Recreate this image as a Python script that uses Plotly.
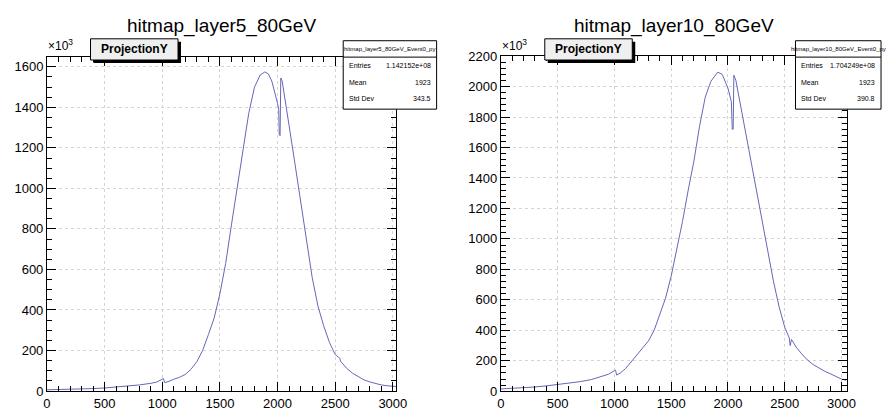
import plotly.graph_objects as go

W, H = 894, 413

# ---------------- data (values in units of 10^3 entries) ----------------
titles = ["hitmap_layer5_80GeV", "hitmap_layer10_80GeV"]
stat_names = ["hitmap_layer5_80GeV_Event0_py", "hitmap_layer10_80GeV_Event0_py"]
entries = ["1.142152e+08", "1.704249e+08"]
means = ["1923", "1923"]
stddevs = ["343.5", "390.8"]

x5 = [0, 100, 200, 300, 400, 500, 600, 700, 800, 900, 950, 1000, 1010, 1020, 1050,
      1100, 1150, 1200, 1250, 1300, 1350, 1400, 1450, 1500, 1550, 1600, 1650, 1700,
      1750, 1800, 1850, 1890, 1920, 1950, 1980, 2000, 2010, 2015, 2022, 2028, 2040,
      2060, 2100, 2150, 2200, 2250, 2300, 2350, 2400, 2450, 2500, 2530, 2540, 2545,
      2600, 2650, 2700, 2750, 2800, 2850, 2900, 2950, 3000, 3030]
y5 = [6, 7, 8, 10, 12, 15, 19, 24, 30, 38, 44, 58, 62, 42, 46,
      58, 68, 82, 108, 145, 200, 278, 360, 480, 630, 820, 1000, 1185,
      1370, 1500, 1560, 1575, 1565, 1530, 1470, 1420, 1390, 1265, 1260, 1545, 1530,
      1450, 1310, 1125, 935, 750, 562, 420, 322, 240, 180, 166, 162, 148,
      112, 88, 70, 55, 45, 37, 30, 26, 23, 22]

x10 = [0, 100, 200, 300, 400, 500, 600, 700, 800, 900, 950, 1000, 1010, 1020, 1050,
       1100, 1150, 1200, 1250, 1300, 1350, 1400, 1450, 1500, 1550, 1600, 1650, 1700,
       1750, 1800, 1850, 1910, 1950, 2000, 2030, 2038, 2046, 2052, 2070, 2100, 2150,
       2200, 2250, 2300, 2350, 2400, 2450, 2500, 2540, 2548, 2560, 2600, 2650, 2700,
       2750, 2800, 2850, 2900, 2950, 3000, 3040]
y10 = [15, 18, 22, 28, 35, 44, 52, 63, 77, 98, 112, 135, 138, 106, 118,
       150, 195, 240, 290, 330, 400, 500, 610, 755, 930, 1115, 1320, 1510,
       1740, 1930, 2035, 2095, 2080, 1990, 1900, 1720, 1720, 2075, 2040, 1920, 1730,
       1520, 1316, 1130, 910, 725, 555, 420, 350, 300, 340, 290, 245, 205,
       175, 152, 132, 115, 98, 80, 72]

# ---------------- layout geometry (pixels) ----------------
px = lambda v: v / W
py = lambda v: 1 - v / H

panels = [
    dict(x0=43.7, x1=399, y0=52, y1=398.5, ymax=1648, xmax=3030, ydt=200, ymin=50, tc=221,
         proj=(88, 177), stat=(345, 440)),
    dict(x0=505.3, x1=857, y0=51, y1=398.7, ymax=2200, xmax=3045, ydt=200, ymin=40, tc=681,
         proj=(550, 639), stat=(805, 892)),
]

LINE = "#6468b5"
FONT = "Liberation Sans, Arial, Helvetica, sans-serif"

fig = go.Figure()
fig.add_trace(go.Scatter(x=x5, y=y5, mode="lines", line=dict(color=LINE, width=1),
                         xaxis="x", yaxis="y", showlegend=False, hoverinfo="skip"))
fig.add_trace(go.Scatter(x=x10, y=y10, mode="lines", line=dict(color=LINE, width=1),
                         xaxis="x2", yaxis="y2", showlegend=False, hoverinfo="skip"))

shapes = []
annots = []
for i, p in enumerate(panels):
    sfx = "" if i == 0 else "2"
    common = dict(showline=True, linecolor="black", linewidth=1, mirror="allticks",
                  ticks="inside", ticklen=9, tickwidth=1, tickcolor="black",
                  showgrid=True, gridcolor="#d4d4d4", griddash="dot", gridwidth=1,
                  zeroline=False, tickfont=dict(family=FONT, size=13, color="black"),
                  fixedrange=True)
    fig.layout["xaxis" + sfx] = dict(
        domain=[px(p["x0"]), px(p["x1"])], range=[0, p["xmax"]], dtick=500, tick0=0,
        anchor="y" + sfx, minor=dict(ticks="inside", ticklen=5, dtick=100, tick0=0,
                                     tickcolor="black", showgrid=False),
        ticklabelstandoff=0, **common)
    fig.layout["yaxis" + sfx] = dict(
        domain=[py(p["y1"]), py(p["y0"])], range=[0, p["ymax"]], dtick=p["ydt"], tick0=0,
        anchor="x" + sfx, minor=dict(ticks="inside", ticklen=5, dtick=p["ymin"], tick0=0,
                                     tickcolor="black", showgrid=False),
        **common)

    # title
    annots.append(dict(text=titles[i], x=px(p["tc"]), y=py(20), xref="paper", yref="paper",
                       showarrow=False, font=dict(family=FONT, size=19, color="black"),
                       xanchor="center", yanchor="middle"))
    # x10^3
    annots.append(dict(text="×10<sup>3</sup>", x=px(p["x0"] - 1), y=py(50), xref="paper",
                       yref="paper", showarrow=False, xanchor="left", yanchor="bottom",
                       font=dict(family=FONT, size=12, color="black")))
    # ProjectionY box with shadow
    a, b = p["proj"]
    shapes.append(dict(type="rect", xref="paper", yref="paper", x0=px(a + 3), x1=px(b + 3),
                       y0=py(58), y1=py(36), fillcolor="black", line=dict(width=0)))
    shapes.append(dict(type="rect", xref="paper", yref="paper", x0=px(a), x1=px(b),
                       y0=py(55), y1=py(33), fillcolor="#efefef",
                       line=dict(color="black", width=1)))
    annots.append(dict(text="<b>ProjectionY</b>", x=px((a + b) / 2), y=py(44), xref="paper",
                       yref="paper", showarrow=False, xanchor="center", yanchor="middle",
                       font=dict(family=FONT, size=12, color="black")))
    # stats box
    s0, s1 = p["stat"]
    shapes.append(dict(type="rect", xref="paper", yref="paper", x0=px(s0), x1=px(s1),
                       y0=py(106), y1=py(35), fillcolor="white",
                       line=dict(color="black", width=1)))
    shapes.append(dict(type="line", xref="paper", yref="paper", x0=px(s0), x1=px(s1),
                       y0=py(52), y1=py(52), line=dict(color="black", width=1)))
    annots.append(dict(text=stat_names[i], x=px((s0 + s1) / 2), y=py(43.5), xref="paper",
                       yref="paper", showarrow=False, xanchor="center", yanchor="middle",
                       font=dict(family=FONT, size=6, color="black")))
    for lab, val, yy in [("Entries", entries[i], 61), ("Mean", means[i], 78),
                         ("Std Dev", stddevs[i], 95)]:
        annots.append(dict(text=lab, x=px(s0 + 4), y=py(yy), xref="paper", yref="paper",
                           showarrow=False, xanchor="left", yanchor="middle",
                           font=dict(family=FONT, size=7, color="black")))
        annots.append(dict(text=val, x=px(s1 - 4), y=py(yy), xref="paper", yref="paper",
                           showarrow=False, xanchor="right", yanchor="middle",
                           font=dict(family=FONT, size=7, color="black")))

fig.update_layout(width=W, height=H, margin=dict(l=0, r=0, t=0, b=0),
                  paper_bgcolor="white", plot_bgcolor="white",
                  shapes=shapes, annotations=annots, showlegend=False)

fig.write_html("out.html", config=dict(displayModeBar=False))
